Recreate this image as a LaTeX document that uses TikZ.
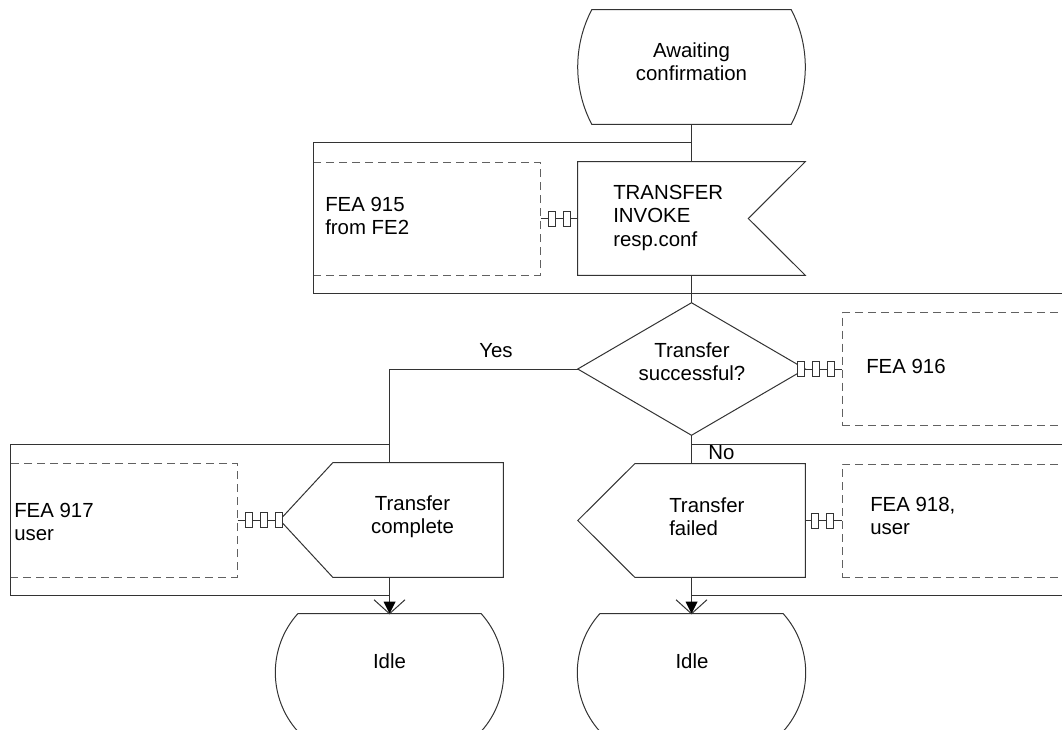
\documentclass[tikz,border=0pt]{standalone}
\usepackage{fontspec}
\setmainfont{Liberation Sans}
\usetikzlibrary{calc}
\tikzset{
  x=0.75pt, y=-0.75pt,
  ln/.style={draw=black!80, line width=0.75pt},
  dsh/.style={draw=black!62, line width=0.75pt, dash pattern=on 6pt off 3.75pt},
  sb/.style 2 args={inner sep=0pt, minimum width=#1*0.75pt, minimum height=#2*0.75pt},
  txt/.style={inner sep=0pt, font=\fontsize{15.3}{17.6}\selectfont, text=black},
  lnkbox/.pic={\draw[ln, fill=white] (-3.5,-7.5) rectangle (3.5,7.5);},
  flowtip/.pic={\fill[black] (0,0) -- (-6,-12) -- (6,-12) -- cycle;
                \draw[ln] (-15.5,-14) -- (0,0) -- (15.5,-14);}
}
\newcommand\drawstatesym[4]{%
  \draw[ln] ($(#1.north west)+(#2,0)$) -- ($(#1.north east)+(-#2,0)$)
    .. controls +(#3,#4) and +(#3,-#4) .. ($(#1.south east)+(-#2,0)$)
    -- ($(#1.south west)+(#2,0)$)
    .. controls +(-#3,-#4) and +(-#3,#4) .. ($(#1.north west)+(#2,0)$) -- cycle;}
\begin{document}
\begin{tikzpicture}
\useasboundingbox (0,0) rectangle (1062,729);
\clip (0,0) rectangle (1062,729);

% shape nodes (geometry only)
\node[sb={227}{114}] (s1) at (691.5,67) {};
\node[sb={227}{113}] (t1) at (691.5,218.5) {};
\node[sb={227}{113}, dsh, draw] (f915) at (426.5,218.5) {};
\node[sb={227}{132}] (d1) at (691.5,369) {};
\node[sb={227}{113}, dsh, draw] (f916) at (955.5,369) {};
\node[sb={223}{114}] (o1) at (391.5,520) {};
\node[sb={227}{114}, dsh, draw] (f917) at (123.5,520) {};
\node[sb={227}{113}] (o2) at (691.5,520.5) {};
\node[sb={227}{113}, dsh, draw] (f918) at (955.5,520.5) {};
\node[sb={227}{117}] (i1) at (389.5,672.5) {};
\node[sb={227}{117}] (i2) at (691.5,672.5) {};

% group frames
\draw[ln] (691.5,142) -- (313,142) -- (313,293) -- (1070,293);
\draw[ln] (691.5,444) -- (1070,444);
\draw[ln] (389.5,444) -- (10,444) -- (10,595) -- (389.5,595);
\draw[ln] (691.5,595) -- (1070,595);

% symbol outlines
\drawstatesym{s1}{14}{18.7}{35.7}
\drawstatesym{i1}{22}{29.9}{33.4}
\drawstatesym{i2}{22}{29.9}{33.4}
\draw[ln] (t1.north west) -- (t1.north east) -- ($(t1.east)+(-57,0)$) -- (t1.south east) -- (t1.south west) -- cycle;
\draw[ln] (d1.north) -- (d1.east) -- (d1.south) -- (d1.west) -- cycle;
\draw[ln] ($(o1.north west)+(53,0)$) -- (o1.north east) -- (o1.south east) -- ($(o1.south west)+(53,0)$) -- (o1.west) -- cycle;
\draw[ln] ($(o2.north west)+(57,0)$) -- (o2.north east) -- (o2.south east) -- ($(o2.south west)+(57,0)$) -- (o2.west) -- cycle;

% flow connectors
\draw[ln] (s1.south) -- (t1.north);
\draw[ln] (t1.south) -- (d1.north);
\draw[ln] (d1.west) -| (o1.north -| i1.north);
\draw[ln] (o1.south -| i1.north) -- (i1.north);
\draw[ln] (d1.south) -- (o2.north);
\draw[ln] (o2.south) -- (i2.north);
\pic at (i1.north) {flowtip};
\pic at (i2.north) {flowtip};

% associations with link boxes
\draw[ln] (f915.east) -- (t1.west);
\pic at ($(f915.east)+(11.5,0)$) {lnkbox};
\pic at ($(f915.east)+(26.5,0)$) {lnkbox};
\draw[ln] (d1.east) -- (f916.west);
\pic at ($(f916.west)+(-40.5,0)$) {lnkbox};
\pic at ($(f916.west)+(-25.5,0)$) {lnkbox};
\pic at ($(f916.west)+(-10.5,0)$) {lnkbox};
\draw[ln] (f917.east) -- (o1.west);
\pic at ($(f917.east)+(11.5,0)$) {lnkbox};
\pic at ($(f917.east)+(26.5,0)$) {lnkbox};
\pic at ($(f917.east)+(41.5,0)$) {lnkbox};
\draw[ln] (o2.east) -- (f918.west);
\pic at ($(f918.west)+(-26.5,0)$) {lnkbox};
\pic at ($(f918.west)+(-11.5,0)$) {lnkbox};

% texts
\node[txt, anchor=north, align=center] (ts1) at (691.5,42) {Awaiting\\confirmation};
\node[txt, anchor=north west, align=left] (tt1) at (613,185) {TRANSFER\\INVOKE\\resp.conf};
\node[txt, anchor=north west, align=left] (tf915) at (325,197) {FEA 915\\from FE2};
\node[txt, anchor=north, align=center] (td1) at (692,342) {Transfer\\successful?};
\node[txt, anchor=north] (tyes) at (496,343) {Yes};
\node[txt, anchor=north west] (tf916) at (866,359) {FEA 916};
\node[txt, anchor=north west] (tno) at (708,445.5) {No};
\node[txt, anchor=north, align=center] (to1) at (412.5,495) {Transfer\\complete};
\node[txt, anchor=north west, align=left] (tf917) at (14,503) {FEA 917\\user};
\node[txt, anchor=north west, align=left] (to2) at (669,497) {Transfer\\failed};
\node[txt, anchor=north west, align=left] (tf918) at (870,497) {FEA 918,\\user};
\node[txt, anchor=north] (ti1) at (389.5,653) {Idle};
\node[txt, anchor=north] (ti2) at (692,653) {Idle};
\end{tikzpicture}
\end{document}
